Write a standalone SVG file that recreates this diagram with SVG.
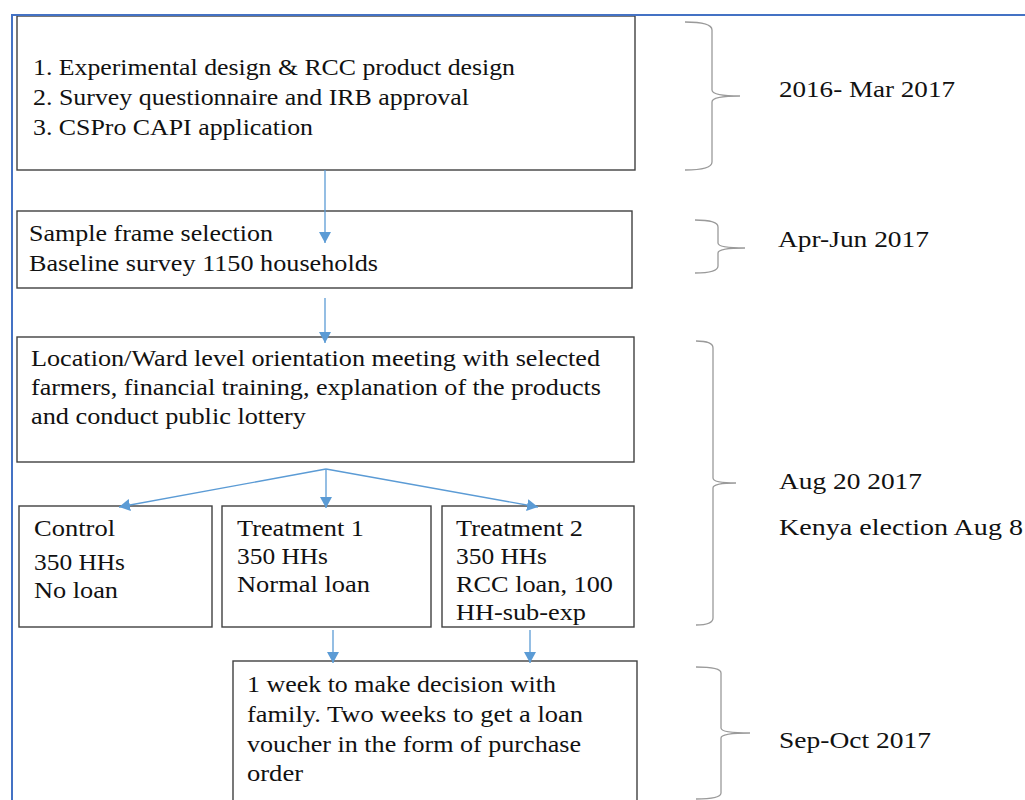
<svg xmlns="http://www.w3.org/2000/svg" width="1025" height="800" viewBox="0 0 1025 800">
<style>
  .box { fill: #ffffff; stroke: #404040; stroke-width: 1.4; }
  .t { font-family: "Liberation Serif", "Times New Roman", serif; font-size: 23px; fill: #111111; }
  .conn { stroke: #5b9bd5; stroke-width: 1.3; fill: none; marker-end: url(#ah); }
  .brace { stroke: #9a9a9a; stroke-width: 1.3; fill: none; }
  .frame { stroke: #4472c4; stroke-width: 2; fill: none; }
</style>
<defs>
  <marker id="ah" markerUnits="userSpaceOnUse" markerWidth="12" markerHeight="12" refX="11" refY="6" orient="auto">
    <path d="M0,0 L11,6 L0,12 z" fill="#5b9bd5"/>
  </marker>
</defs>
<rect width="1025" height="800" fill="#ffffff"/>

<g id="box1">
  <rect class="box" x="17" y="16" width="618" height="154"/>
  <text class="t" x="33" y="75" textLength="482" lengthAdjust="spacingAndGlyphs">1. Experimental design &amp; RCC product design</text>
  <text class="t" x="33" y="105" textLength="436" lengthAdjust="spacingAndGlyphs">2. Survey questionnaire and IRB approval</text>
  <text class="t" x="33" y="135" textLength="280" lengthAdjust="spacingAndGlyphs">3. CSPro CAPI application</text>
</g>
<g id="box2">
  <rect class="box" x="17" y="211" width="615" height="77"/>
  <text class="t" x="29" y="241" textLength="244" lengthAdjust="spacingAndGlyphs">Sample frame selection</text>
  <text class="t" x="29" y="271" textLength="349" lengthAdjust="spacingAndGlyphs">Baseline survey 1150 households</text>
</g>
<g id="box3">
  <rect class="box" x="17" y="337" width="617" height="125"/>
  <text class="t" x="31" y="366" textLength="569" lengthAdjust="spacingAndGlyphs">Location/Ward level orientation meeting with selected</text>
  <text class="t" x="31" y="395" textLength="570" lengthAdjust="spacingAndGlyphs">farmers, financial training, explanation of the products</text>
  <text class="t" x="31" y="424" textLength="275" lengthAdjust="spacingAndGlyphs">and conduct public lottery</text>
</g>
<g id="control">
  <rect class="box" x="19" y="506" width="193" height="121"/>
  <text class="t" x="34" y="536" textLength="81" lengthAdjust="spacingAndGlyphs">Control</text>
  <text class="t" x="34" y="570" textLength="91" lengthAdjust="spacingAndGlyphs">350 HHs</text>
  <text class="t" x="34" y="598" textLength="84" lengthAdjust="spacingAndGlyphs">No loan</text>
</g>
<g id="treatment1">
  <rect class="box" x="222" y="506" width="209" height="121"/>
  <text class="t" x="237" y="536" textLength="127" lengthAdjust="spacingAndGlyphs">Treatment 1</text>
  <text class="t" x="237" y="564" textLength="91" lengthAdjust="spacingAndGlyphs">350 HHs</text>
  <text class="t" x="237" y="592" textLength="133" lengthAdjust="spacingAndGlyphs">Normal loan</text>
</g>
<g id="treatment2">
  <rect class="box" x="442" y="506" width="192" height="121"/>
  <text class="t" x="456" y="536" textLength="127" lengthAdjust="spacingAndGlyphs">Treatment 2</text>
  <text class="t" x="456" y="564" textLength="91" lengthAdjust="spacingAndGlyphs">350 HHs</text>
  <text class="t" x="456" y="592" textLength="157" lengthAdjust="spacingAndGlyphs">RCC loan, 100</text>
  <text class="t" x="456" y="620" textLength="130" lengthAdjust="spacingAndGlyphs">HH-sub-exp</text>
</g>
<g id="box5">
  <rect class="box" x="233" y="661" width="404" height="150"/>
  <text class="t" x="247" y="692" textLength="309" lengthAdjust="spacingAndGlyphs">1 week to make decision with</text>
  <text class="t" x="247" y="722" textLength="336" lengthAdjust="spacingAndGlyphs">family. Two weeks to get a loan</text>
  <text class="t" x="247" y="752" textLength="334" lengthAdjust="spacingAndGlyphs">voucher in the form of purchase</text>
  <text class="t" x="247" y="781" textLength="56" lengthAdjust="spacingAndGlyphs">order</text>
</g>

<g id="connectors">
  <line class="conn" x1="325" y1="170" x2="325" y2="243"/>
  <line class="conn" x1="325" y1="298" x2="325" y2="343"/>
  <line class="conn" x1="326" y1="469" x2="119" y2="507"/>
  <line class="conn" x1="326" y1="469" x2="326" y2="508"/>
  <line class="conn" x1="326" y1="469" x2="538" y2="507"/>
  <line class="conn" x1="333" y1="630" x2="333" y2="663"/>
  <line class="conn" x1="530" y1="630" x2="530" y2="663"/>
</g>

<g id="timeline1">
  <path class="brace" d="M685,22 Q712,22 712,30 L712,90 Q712,96 740,96 Q712,96 712,102 L712,162 Q712,170 685,170"/>
  <text class="t" x="779" y="97" textLength="176" lengthAdjust="spacingAndGlyphs">2016- Mar 2017</text>
</g>
<g id="timeline2">
  <path class="brace" d="M695,220 Q718,220 718,227 L718,243 Q718,248 745,248 Q718,248 718,253 L718,266 Q718,273 695,273"/>
  <text class="t" x="778" y="247" textLength="151" lengthAdjust="spacingAndGlyphs">Apr-Jun 2017</text>
</g>
<g id="timeline3">
  <path class="brace" d="M696,341 Q713,341 713,348 L713,478 Q713,483 736,483 Q713,483 713,488 L713,618 Q713,625 696,625"/>
  <text class="t" x="779" y="489" textLength="143" lengthAdjust="spacingAndGlyphs">Aug 20 2017</text>
  <text class="t" x="779" y="535" textLength="244" lengthAdjust="spacingAndGlyphs">Kenya election Aug 8</text>
</g>
<g id="timeline4">
  <path class="brace" d="M696,667 Q721,667 721,673 L721,728 Q721,733 750,733 Q721,733 721,738 L721,793 Q721,799 696,799"/>
  <text class="t" x="779" y="748" textLength="152" lengthAdjust="spacingAndGlyphs">Sep-Oct 2017</text>
</g>

<path class="frame" d="M12,801 L12,15 L1026,15"/>
</svg>
